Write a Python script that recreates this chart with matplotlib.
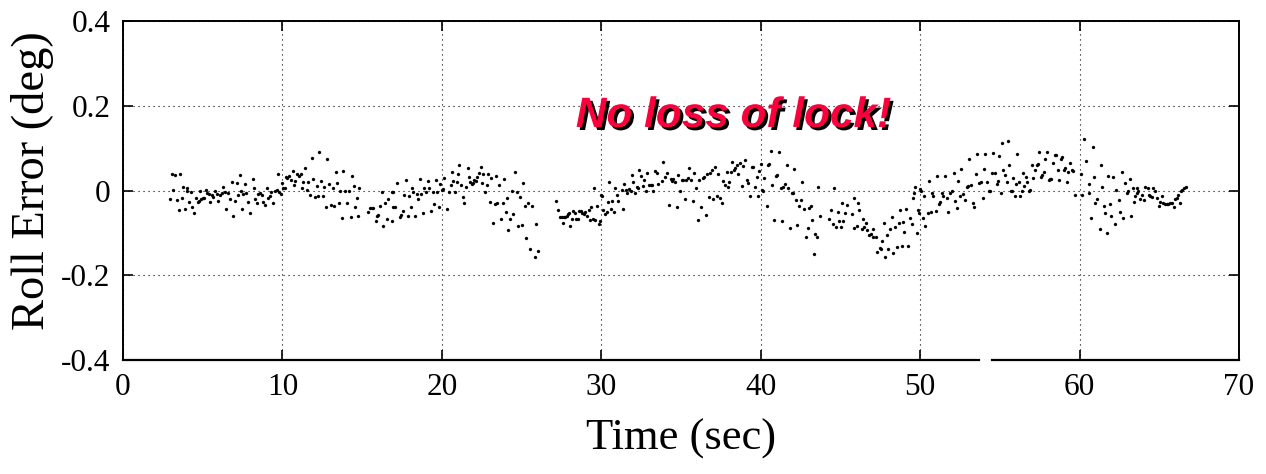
import numpy as np
import matplotlib
matplotlib.use("Agg")
import matplotlib.pyplot as plt
import matplotlib.patheffects as pe

# ---------------- data ----------------
t_a = [3.05, 3.26, 3.58, 2.95, 3.16, 3.37, 3.53, 3.70, 3.74, 3.89, 3.99, 4.04, 4.16, 4.29, 4.35, 4.45,
       4.58, 4.68, 4.79, 4.89, 5.00, 5.10, 4.83, 5.21, 5.29, 5.42, 5.46, 5.56, 5.67, 5.79, 5.88, 5.98,
       6.09, 6.19, 6.29, 6.38, 6.46, 6.61, 6.71, 6.82, 6.92, 7.01, 7.13, 7.23, 7.34, 7.38, 7.44, 7.55,
       7.65, 7.72, 7.82, 7.97, 8.13, 8.22, 8.30, 8.38, 8.49, 8.59, 8.70, 8.80, 8.91, 9.01, 9.12, 9.22,
       9.30, 9.43, 9.54, 9.64, 9.70, 9.81, 9.91, 9.95, 10.06, 10.14, 10.23, 10.31, 10.43, 10.56, 10.64,
       10.73, 10.81, 10.94, 11.06, 11.15, 11.21, 11.31, 11.42, 11.52, 11.63, 11.73, 11.83, 11.94, 12.04,
       12.15, 12.25, 12.32, 12.44, 12.52, 12.61, 12.73, 12.82, 12.94, 13.03, 13.15, 13.24, 13.34, 13.45,
       13.53, 13.61, 13.76, 13.82, 13.93, 14.07, 14.18, 14.28, 14.34, 14.49, 14.57, 14.66, 14.76, 14.83,
       15.39, 15.49, 15.60, 15.70, 15.91, 16.02, 15.87, 16.12, 16.23, 16.33, 16.44, 16.54, 16.65]
v_a = [0.040, 0.036, 0.040, -0.020, 0.001, -0.022, -0.046, -0.017, 0.009, -0.044, 0.005, 0.000, -0.028,
       -0.003, -0.038, -0.054, -0.018, -0.026, -0.024, -0.021, -0.018, -0.018, 0.000, 0.001, -0.005,
       -0.009, -0.028, -0.011, -0.015, 0.000, -0.009, -0.025, -0.011, -0.007, 0.009, -0.003, -0.044,
       -0.007, -0.021, 0.021, -0.060, -0.025, 0.017, -0.011, 0.036, -0.001, -0.044, -0.009, 0.015, -0.005,
       -0.028, -0.052, 0.026, 0.005, -0.021, -0.029, -0.009, -0.007, -0.011, -0.026, -0.034, 0.007, -0.017,
       -0.013, -0.003, -0.029, -0.001, 0.001, 0.038, -0.003, -0.009, 0.018, 0.005, 0.007, 0.033, 0.030,
       0.034, 0.025, 0.047, 0.013, 0.023, 0.038, 0.034, 0.040, 0.005, 0.019, 0.054, 0.001, 0.019, -0.011,
       0.076, 0.026, -0.015, 0.011, -0.012, 0.092, 0.022, -0.012, 0.009, -0.040, 0.074, 0.015, -0.034,
       0.007, -0.037, 0.043, 0.017, -0.029, -0.001, -0.066, 0.046, -0.001, -0.029, -0.001, -0.062, 0.035,
       0.011, -0.040, -0.018, -0.059, 0.007, -0.051, -0.042, -0.042, -0.042, -0.060, -0.058, -0.073,
       -0.036, -0.003, -0.083, -0.029, -0.067, -0.021]

t_b = [16.85, 16.85, 16.96, 16.91, 17.06, 17.21, 17.37, 17.44, 17.54, 17.65, 17.75, 17.85, 17.96, 18.04,
       18.15, 18.21, 18.31, 18.42, 18.52, 18.63, 18.71, 18.80, 18.90, 19.00, 19.11, 19.21, 19.32, 19.42,
       19.53, 19.63, 19.71, 19.80, 19.88, 19.99, 20.05, 20.13, 20.34, 20.47, 20.55, 20.61, 20.72, 20.82,
       20.97, 21.03, 21.09, 21.20, 21.30, 21.41, 21.51, 21.62, 21.68, 21.76, 21.87, 21.93, 22.03, 22.14,
       22.22, 22.31, 22.43, 22.49, 22.60, 22.70, 22.81, 22.89, 23.02, 23.10, 23.23, 23.33, 23.39, 23.48,
       23.58, 23.69, 23.81, 23.87, 24.00, 24.10, 24.17, 24.27, 24.40, 24.48, 24.59, 24.69, 24.79, 24.90,
       25.02, 25.11, 25.23, 25.27, 25.42, 25.53, 25.63, 25.84, 25.90, 26.03]
v_b = [-0.003, -0.073, -0.003, -0.040, -0.040, 0.017, -0.062, -0.058, -0.048, -0.011, 0.025, -0.059,
       -0.013, -0.040, 0.007, -0.003, -0.059, -0.009, -0.021, 0.027, -0.009, -0.052, 0.007, -0.004, 0.023,
       0.007, -0.048, -0.004, -0.033, 0.025, -0.003, -0.040, 0.015, 0.001, 0.004, 0.030, -0.044, -0.003,
       0.013, 0.044, 0.022, -0.003, 0.019, 0.039, 0.060, 0.013, -0.015, -0.030, 0.009, 0.052, 0.033, 0.021,
       0.015, 0.018, 0.025, 0.023, 0.033, 0.042, 0.055, 0.017, 0.039, -0.004, 0.013, 0.040, -0.026, 0.030,
       -0.076, -0.032, 0.034, -0.030, 0.013, -0.067, -0.029, 0.027, -0.050, -0.018, -0.093, -0.068, 0.000,
       -0.056, 0.044, -0.003, -0.084, -0.015, -0.081, 0.018, -0.037, -0.111, -0.029, -0.139, -0.037,
       -0.156, -0.079, -0.143]

t_c = [27.13, 27.30, 27.41, 27.51, 27.57, 27.66, 27.74, 27.82, 27.89, 27.99, 28.03, 28.16, 28.24, 28.33,
       28.41, 28.53, 28.60, 28.70, 28.81, 28.91, 28.99, 29.12, 29.22, 29.29, 29.37, 29.50, 29.54, 29.62,
       29.71, 29.83, 29.91, 29.96, 30.02, 30.12, 30.23, 30.33, 30.44, 30.50, 30.58, 30.69, 30.79, 30.85,
       30.96, 31.06, 31.34, 31.28, 31.45, 31.55, 31.64, 31.74, 31.85, 31.91, 32.01, 32.12, 32.22, 32.33,
       32.39, 32.49, 32.60, 32.70, 32.81, 32.89, 33.02, 33.10, 33.20, 33.27, 33.37, 33.48, 33.58, 33.79,
       33.89, 34.00, 34.14, 34.25, 34.35, 34.42, 34.52, 34.63, 34.73, 34.83, 34.94, 35.04, 35.15, 35.25,
       35.34, 35.42, 35.52, 35.61, 35.73, 35.84, 35.94, 36.05, 36.15, 36.23, 36.36, 36.44, 36.57, 36.65,
       36.74, 36.82, 36.92, 37.03, 37.13, 37.24, 37.34, 37.45, 37.57, 37.66, 37.76, 37.87, 37.95, 38.03]
v_c = [-0.025, -0.046, -0.062, -0.063, -0.076, -0.063, -0.063, -0.060, -0.055, -0.052, -0.083, -0.068,
       -0.048, -0.054, -0.068, -0.068, -0.048, -0.048, -0.052, -0.056, -0.050, -0.060, -0.046, -0.070,
       -0.040, -0.068, 0.005, -0.070, -0.037, -0.079, -0.071, -0.011, -0.013, -0.046, -0.055, -0.050,
       -0.026, 0.019, -0.044, -0.025, -0.050, 0.005, -0.011, -0.025, -0.044, 0.001, 0.015, 0.001, -0.005,
       0.003, -0.002, 0.037, 0.019, -0.005, 0.009, 0.005, 0.048, 0.035, 0.011, 0.025, -0.001, 0.042, 0.013,
       0.013, 0.013, 0.000, 0.045, 0.042, 0.015, 0.022, 0.068, 0.033, 0.042, -0.034, 0.027, 0.022, 0.027,
       0.019, -0.038, 0.037, -0.002, 0.025, 0.025, -0.021, 0.025, 0.029, 0.052, 0.025, -0.025, 0.041,
       0.007, -0.069, 0.025, -0.040, 0.029, 0.033, -0.058, 0.038, -0.016, 0.042, 0.048, -0.020, 0.055,
       -0.013, 0.039, -0.017, -0.030, 0.023, 0.013, 0.044, 0.009, 0.021]

t_d = [38.12, 38.22, 38.32, 38.41, 38.49, 38.60, 38.70, 38.81, 38.91, 39.01, 39.12, 39.22, 39.33, 39.43,
       39.54, 39.64, 39.75, 39.85, 39.91, 40.00, 40.06, 40.16, 40.23, 40.37, 40.48, 40.54, 40.67, 40.73,
       40.83, 40.94, 41.02, 41.15, 41.25, 41.36, 41.42, 41.52, 41.63, 41.73, 41.84, 41.94, 42.05, 42.11,
       42.19, 42.30, 42.40, 42.50, 42.61, 42.71, 42.84, 42.94, 43.03, 43.13, 43.24, 43.32, 43.40, 43.51,
       43.61, 43.72, 44.30, 44.39, 44.51, 44.62, 44.72, 44.82, 44.93, 45.01, 45.12, 45.18, 45.28, 45.43]
v_d = [0.044, 0.068, 0.048, 0.052, 0.060, 0.038, 0.064, 0.011, 0.058, 0.072, 0.025, 0.017, -0.014, 0.056,
       0.056, 0.009, 0.033, -0.014, 0.045, 0.062, 0.001, -0.001, 0.029, -0.036, 0.060, 0.062, 0.093, 0.013,
       -0.069, 0.034, 0.037, 0.090, 0.007, -0.073, 0.009, 0.015, 0.060, 0.005, -0.089, -0.007, -0.005,
       0.050, -0.022, -0.081, -0.036, -0.022, 0.021, -0.044, -0.110, -0.089, -0.042, -0.036, -0.069,
       -0.150, -0.102, -0.110, 0.008, -0.060, -0.068, -0.046, -0.080, 0.005, -0.085, -0.050, -0.073,
       -0.087, -0.030, -0.072, -0.054, -0.034]

t_e = [45.71, 45.82, 45.88, 46.03, 46.09, 46.19, 46.34, 46.40, 46.48, 46.61, 46.69, 46.82, 46.90, 47.01,
       47.07, 47.22, 47.32, 47.45, 47.53, 47.63, 47.70, 47.80, 47.91, 48.01, 48.12, 48.22, 48.32, 48.43,
       48.53, 48.64, 48.74, 48.85, 48.91, 48.99, 49.10, 49.26, 49.37, 49.47, 49.58, 49.64, 49.68, 49.79,
       49.89, 49.95, 50.00, 50.08, 50.16, 50.25, 50.33, 50.46, 50.54, 50.66, 50.73, 50.83, 50.98, 51.08,
       51.17, 51.25, 51.35, 51.46, 51.58, 51.67, 51.77, 51.88, 52.00, 52.09, 52.19, 52.30, 52.40, 52.50,
       52.57, 52.67, 52.82, 52.92, 53.03, 53.09, 53.17, 53.30, 53.38, 53.51, 53.59, 53.72, 53.80, 53.93]
v_e = [-0.056, -0.089, -0.017, -0.083, -0.030, -0.047, -0.091, -0.067, -0.085, -0.076, -0.093, -0.105,
       -0.102, -0.091, -0.109, -0.110, -0.144, -0.135, -0.138, -0.118, -0.076, -0.156, -0.105, -0.138,
       -0.091, -0.062, -0.147, -0.085, -0.134, -0.076, -0.047, -0.132, -0.075, -0.099, -0.044, -0.130,
       -0.064, -0.079, -0.018, -0.005, 0.009, -0.101, -0.046, -0.054, 0.003, -0.002, -0.064, -0.013,
       -0.084, -0.052, 0.022, -0.050, -0.007, -0.014, -0.048, 0.034, -0.032, -0.026, -0.007, -0.014,
       0.034, -0.018, -0.050, -0.005, -0.001, 0.041, -0.024, -0.042, 0.022, -0.013, 0.051, -0.008, -0.022,
       0.009, 0.011, 0.074, 0.013, -0.030, -0.040, 0.038, 0.086, 0.017, 0.019, -0.018]

t_f = [54.01, 54.09, 54.22, 54.32, 54.41, 54.51, 54.59, 54.70, 54.80, 54.89, 54.97, 55.05, 55.14, 55.22,
       55.33, 55.43, 55.49, 55.60, 55.68, 55.76, 55.85, 55.93, 56.02, 56.10, 56.18, 56.27, 56.37, 56.48,
       56.54, 56.64, 56.73, 56.81, 56.89, 57.00, 57.10, 57.21, 57.31, 57.42, 57.48, 57.58, 57.67, 57.77,
       57.85, 57.98, 58.06, 58.15, 58.23, 58.36, 58.44, 58.52, 58.63, 58.73, 58.82, 58.90, 59.02, 59.11,
       59.19, 59.30, 59.40, 59.51, 59.61, 59.71]
v_f = [0.050, 0.085, 0.019, -0.002, -0.001, 0.042, 0.088, 0.042, 0.015, 0.023, 0.082, -0.007, 0.111,
       0.048, 0.037, 0.021, 0.117, 0.060, -0.001, -0.001, 0.029, -0.013, 0.015, 0.086, 0.019, -0.012,
       -0.001, 0.041, 0.011, 0.033, 0.019, -0.001, 0.001, 0.060, 0.029, 0.048, 0.060, 0.062, 0.090, 0.033,
       0.037, 0.044, 0.074, 0.090, 0.025, 0.026, 0.026, 0.064, 0.084, 0.084, 0.048, 0.025, 0.074, 0.080,
       0.048, 0.054, 0.019, 0.044, 0.066, 0.048, 0.047, -0.011]

t_g = [60.08, 60.16, 60.28, 60.41, 60.56, 60.62, 60.70, 60.81, 60.91, 60.99, 61.08, 61.25, 61.33, 61.41,
       61.54, 61.62, 61.71, 61.81, 61.92, 61.98, 62.08, 62.23, 62.29, 62.44, 62.54, 62.63, 62.75, 62.86,
       62.96, 63.06, 63.13, 63.23, 63.34, 63.42, 63.48, 63.59, 63.63, 63.69, 63.80, 63.90, 64.01, 64.13,
       64.26, 64.34, 64.42, 64.51, 64.63, 64.74, 64.84, 64.95, 65.05, 65.15, 65.26, 65.36, 65.47, 65.57,
       65.68, 65.78, 65.89, 65.99, 66.10, 66.20, 66.30, 66.37, 66.45, 66.56, 66.66]
v_g = [0.038, -0.010, 0.121, 0.070, -0.007, 0.015, -0.064, 0.103, 0.033, -0.030, -0.021, -0.091, 0.060,
       0.008, -0.036, -0.052, -0.101, 0.035, -0.032, -0.059, 0.031, -0.080, 0.001, -0.022, -0.051, 0.043,
       -0.065, 0.017, -0.005, -0.001, 0.027, -0.059, 0.007, -0.026, -0.013, 0.005, -0.007, -0.001, -0.021,
       -0.010, -0.022, 0.009, 0.007, -0.010, -0.013, -0.016, 0.007, -0.002, -0.018, -0.036, -0.026, -0.014,
       -0.030, -0.032, -0.032, -0.032, -0.030, -0.029, -0.038, -0.021, -0.017, -0.010, -0.030, -0.001,
       0.001, 0.005, 0.009]

x_ticks = [0, 10, 20, 30, 40, 50, 60, 70]
y_ticks = [-0.4, -0.2, 0.0, 0.2, 0.4]
y_tick_labels = ["-0.4", "-0.2", "0", "0.2", "0.4"]
x_label = "Time (sec)"
y_label = "Roll Error (deg)"
annotation = "No loss of lock!"
annot_pos = (38.3, 0.150)
spine_break = (53.7, 54.5)

# ---------------- figure ----------------
plt.rcParams['axes.unicode_minus'] = False
plt.rcParams['font.family'] = ['Liberation Serif', 'DejaVu Serif']

fig = plt.figure(figsize=(12.66, 4.74), dpi=100)
ax = fig.add_axes([0.0972, 0.2405, 0.8815, 0.7152])

t_all = np.concatenate([t_a, t_b, t_c, t_d, t_e, t_f, t_g])
v_all = np.concatenate([v_a, v_b, v_c, v_d, v_e, v_f, v_g])
ax.plot(t_all, v_all, linestyle='none', marker='o', markersize=2.2,
        markerfacecolor='black', markeredgecolor='black', markeredgewidth=0.2)

ax.set_xlim(0, 70)
ax.set_ylim(-0.4, 0.4)
ax.set_xticks(x_ticks)
ax.set_yticks(y_ticks)
ax.set_yticklabels(y_tick_labels)
ax.grid(True, color='black', linestyle=(0, (1, 3.5)), linewidth=0.8)
ax.tick_params(direction='in', length=7, width=1.2, top=True, right=True,
               labelsize=22.5, color='black')
ax.tick_params(axis='x', pad=9)
ax.tick_params(axis='y', pad=9)

for s in ['left', 'right', 'top']:
    ax.spines[s].set_linewidth(1.4)
ax.spines['bottom'].set_visible(False)
xt = ax.get_xaxis_transform()
ax.plot([0, spine_break[0]], [0, 0], color='black', lw=1.6, transform=xt, clip_on=False)
ax.plot([spine_break[1], 70], [0, 0], color='black', lw=1.6, transform=xt, clip_on=False)

ax.set_xlabel(x_label, fontsize=32, labelpad=12)
ax.set_ylabel(y_label, fontsize=33.5)
ax.yaxis.set_label_coords(-0.062, 0.53)

ax.text(annot_pos[0], annot_pos[1], annotation, ha='center', va='baseline',
        fontsize=30.5, fontweight='bold', fontstyle='italic', color='#FA003C',
        family=['Liberation Sans', 'DejaVu Sans'],
        path_effects=[pe.withSimplePatchShadow(offset=(2.2, -2.2), shadow_rgbFace='black', alpha=1.0)])

fig.savefig('out.png', dpi=100)
